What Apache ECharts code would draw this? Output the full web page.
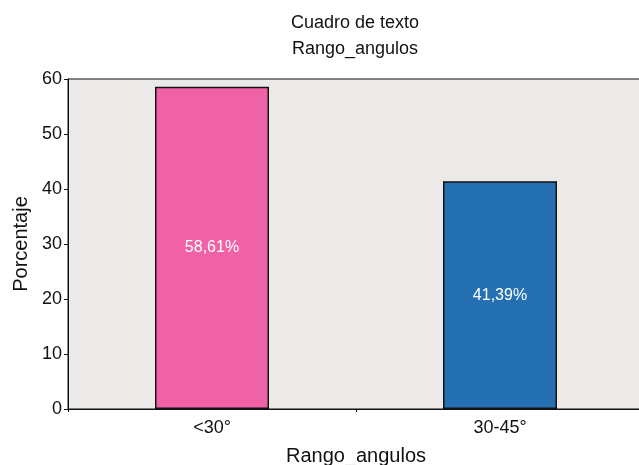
<!DOCTYPE html>
<html>
<head>
<meta charset="utf-8">
<script src="https://cdn.jsdelivr.net/npm/echarts@6/dist/echarts.min.js"></script>
<style>
  html, body { margin: 0; padding: 0; background: #ffffff; }
  #chart { width: 639px; height: 465px; }
</style>
</head>
<body>
<div id="chart"></div>
<script>
// Angle ranges and their share of cases (percent)
const categories = ['<30°', '30-45°'];
const percentages = [58.61, 41.39];
const barColors = ['#F062A6', '#2570B2'];
const yTicks = { min: 0, max: 60, interval: 10 };

const FONT = '"Liberation Sans", Arial, Helvetica, sans-serif';

const chart = echarts.init(document.getElementById('chart'), null, { renderer: 'canvas' });

chart.setOption({
  animation: false,
  backgroundColor: '#ffffff',
  textStyle: { fontFamily: FONT },
  title: {
    text: 'Cuadro de texto\nRango_angulos',
    left: 350,
    top: 5,
    textAlign: 'center',
    textStyle: {
      fontFamily: FONT,
      fontSize: 18,
      fontWeight: 'normal',
      color: '#111',
      lineHeight: 26
    }
  },
  grid: {
    left: 68,
    right: -5,
    top: 79,
    bottom: 56,
    containLabel: false,
    outerBoundsMode: 'none',
    show: true,
    backgroundColor: '#EBEAE8',
    borderColor: '#111',
    borderWidth: 1
  },
  xAxis: {
    type: 'category',
    data: categories,
    name: 'Rango_angulos',
    nameLocation: 'middle',
    nameGap: 37,
    nameTextStyle: { fontFamily: FONT, fontSize: 20, color: '#111' },
    axisLine: { lineStyle: { color: '#111', width: 1 } },
    axisTick: { show: true, length: 3, lineStyle: { color: '#111' } },
    axisLabel: { fontFamily: FONT, fontSize: 18, color: '#111', margin: 10 },
    splitLine: { show: false }
  },
  yAxis: {
    type: 'value',
    min: yTicks.min,
    max: yTicks.max,
    interval: yTicks.interval,
    name: 'Porcentaje',
    nameLocation: 'middle',
    nameGap: 33,
    nameTextStyle: { fontFamily: FONT, fontSize: 20, color: '#111' },
    axisLine: { show: true, lineStyle: { color: '#111', width: 1 } },
    axisTick: { show: true, length: 4, lineStyle: { color: '#111' } },
    axisLabel: { fontFamily: FONT, fontSize: 18, color: '#111', margin: 6 },
    splitLine: { show: false }
  },
  series: [{
    type: 'bar',
    barWidth: 114,
    data: percentages.map((v, i) => ({
      value: v,
      itemStyle: { color: barColors[i] }
    })),
    itemStyle: { borderColor: '#111', borderWidth: 1.5 },
    label: {
      show: true,
      position: 'inside',
      fontFamily: FONT,
      fontSize: 16,
      color: '#ffffff',
      formatter: p => p.value.toFixed(2).replace('.', ',') + '%'
    }
  }]
});
</script>
</body>
</html>
